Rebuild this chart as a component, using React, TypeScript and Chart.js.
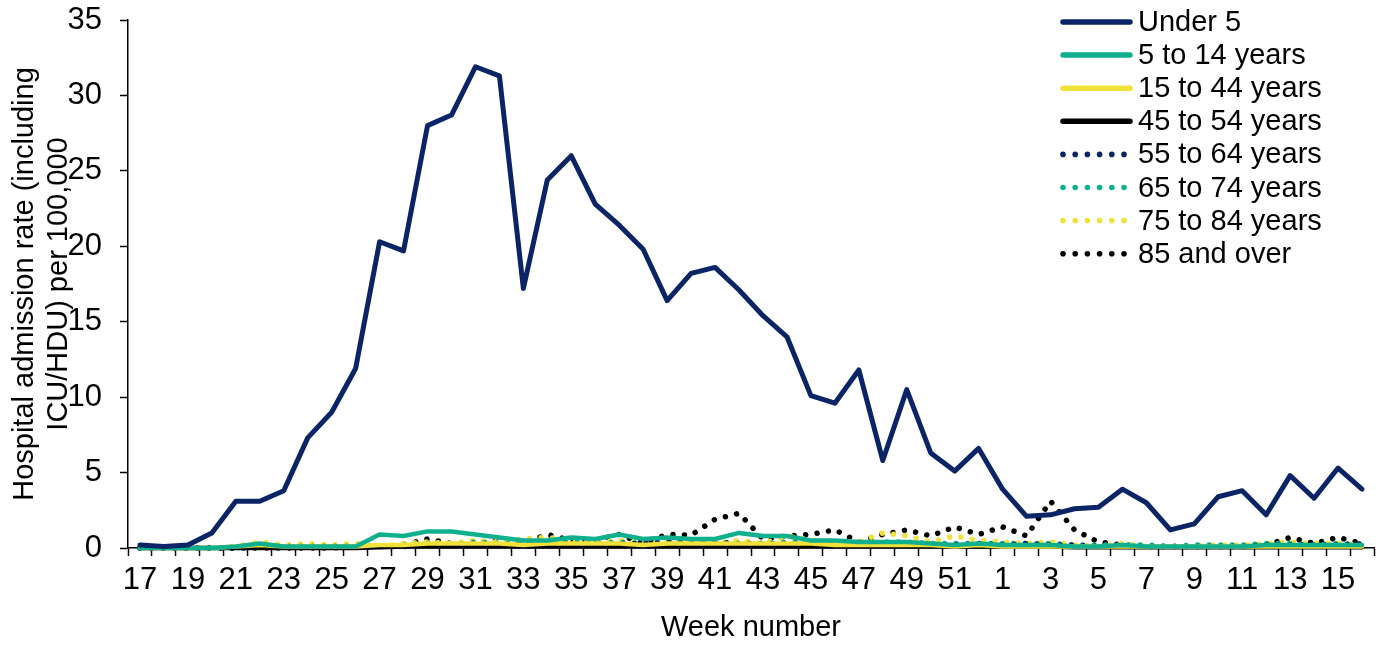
import React, { useEffect, useRef } from "react";
import { Chart, registerables } from "chart.js";

Chart.register(...registerables);

const weeks: string[] = [
  "17","18","19","20","21","22","23","24","25","26",
  "27","28","29","30","31","32","33","34","35","36",
  "37","38","39","40","41","42","43","44","45","46",
  "47","48","49","50","51","52",
  "1","2","3","4","5","6","7","8","9","10",
  "11","12","13","14","15","16",
];

const under5: number[] = [
  0.2,0.1,0.2,1.0,3.1,3.1,3.8,7.3,9.0,11.9,
  20.3,19.7,28.0,28.7,31.9,31.3,17.2,24.4,26.0,22.8,
  21.4,19.8,16.4,18.2,18.6,17.1,15.4,14.0,10.1,9.6,
  11.8,5.8,10.5,6.3,5.1,6.6,
  3.9,2.1,2.2,2.6,2.7,3.9,3.0,1.2,1.6,3.4,
  3.8,2.2,4.8,3.3,5.3,3.9,
];

const age5to14: number[] = [
  0,0,0,0,0.1,0.3,0.1,0.1,0.1,0.1,
  0.9,0.8,1.1,1.1,0.9,0.7,0.5,0.5,0.7,0.6,
  0.9,0.6,0.7,0.6,0.6,1.0,0.8,0.8,0.5,0.5,
  0.4,0.4,0.4,0.3,0.2,0.3,
  0.2,0.2,0.2,0.1,0.1,0.2,0.1,0.1,0.1,0.1,
  0.1,0.2,0.2,0.2,0.2,0.2,
];

const age15to44: number[] = [
  0,0,0,0,0.1,0.2,0.1,0.1,0.1,0.1,
  0.2,0.2,0.3,0.3,0.3,0.3,0.2,0.3,0.3,0.3,
  0.3,0.2,0.3,0.3,0.3,0.3,0.3,0.3,0.3,0.2,
  0.2,0.2,0.2,0.2,0.1,0.2,
  0.1,0.1,0.1,0.1,0.1,0.1,0.1,0.1,0.1,0.1,
  0.1,0.1,0.1,0.1,0.1,0.1,
];

const age45to54: number[] = [
  0,0,0,0,0,0,0,0,0,0,
  0.05,0.1,0.1,0.1,0.1,0.1,0.1,0.1,0.1,0.1,
  0.1,0.1,0.1,0.1,0.1,0.1,0.1,0.1,0.1,0.1,
  0.1,0.1,0.1,0.1,0.1,0.1,
  0.1,0.1,0.1,0.05,0.05,0.05,0.05,0.05,0.05,0.05,
  0.05,0.05,0.05,0.05,0.05,0.05,
];

const age55to64: number[] = [
  0,0,0,0,0,0.1,0.1,0.1,0.1,0.1,
  0.1,0.1,0.2,0.2,0.3,0.2,0.2,0.3,0.3,0.2,
  0.3,0.3,0.4,0.3,0.4,0.3,0.3,0.3,0.3,0.3,
  0.3,0.3,0.3,0.2,0.2,0.3,
  0.2,0.3,0.2,0.2,0.1,0.1,0.1,0.1,0.1,0.1,
  0.1,0.2,0.2,0.2,0.2,0.3,
];

const age65to74: number[] = [
  0,0,0,0,0,0.1,0.1,0.1,0.1,0.1,
  0.1,0.2,0.3,0.2,0.4,0.3,0.3,0.4,0.4,0.3,
  0.4,0.3,0.3,0.5,0.4,0.3,0.3,0.4,0.4,0.3,
  0.3,0.4,0.4,0.3,0.3,0.3,
  0.3,0.3,0.3,0.2,0.2,0.2,0.2,0.1,0.2,0.2,
  0.2,0.3,0.3,0.2,0.3,0.2,
];

const age75to84: number[] = [
  0,0,0,0,0.1,0.4,0.2,0.3,0.2,0.3,
  0.1,0.3,0.4,0.3,0.5,0.4,0.6,0.7,0.5,0.4,
  0.5,0.3,0.4,0.4,0.3,0.5,0.3,0.8,0.5,0.4,
  0.4,1.0,0.8,0.4,0.8,0.5,
  0.4,0.3,0.4,0.2,0.1,0.3,0.1,0.1,0.1,0.2,
  0.2,0.3,0.4,0.3,0.3,0.2,
];

const age85plus: number[] = [
  0,0,0,0,0,0,0,0,0,0.1,
  0.1,0.2,0.6,0.3,0.4,0.5,0.3,0.9,0.5,0.5,
  0.9,0.3,0.9,0.85,1.9,2.3,0.6,0.8,0.9,1.2,
  0.4,0.9,1.2,0.8,1.4,0.9,
  1.4,0.8,3.1,1.2,0.4,0.2,0.1,0.1,0.1,0.1,
  0.1,0.2,0.7,0.3,0.7,0.3,
];

const yTicks: number[] = [0, 5, 10, 15, 20, 25, 30, 35];

const NAVY = "#0b2466";
const TEAL = "#10b08e";
const YELLOW = "#f1e23a";
const BLACK = "#000000";
const FONT = "'Liberation Sans', Arial, sans-serif";

type SeriesDef = { label: string; data: number[]; color: string; dotted: boolean; width: number };

const seriesDefs: SeriesDef[] = [
  { label: "Under 5", data: under5, color: NAVY, dotted: false, width: 5 },
  { label: "5 to 14 years", data: age5to14, color: TEAL, dotted: false, width: 4.5 },
  { label: "15 to 44 years", data: age15to44, color: YELLOW, dotted: false, width: 4.5 },
  { label: "45 to 54 years", data: age45to54, color: BLACK, dotted: false, width: 4.5 },
  { label: "55 to 64 years", data: age55to64, color: NAVY, dotted: true, width: 5.5 },
  { label: "65 to 74 years", data: age65to74, color: TEAL, dotted: true, width: 5.5 },
  { label: "75 to 84 years", data: age75to84, color: YELLOW, dotted: true, width: 5.5 },
  { label: "85 and over", data: age85plus, color: BLACK, dotted: true, width: 5.5 },
];

const overlayPlugin = {
  id: "overlay",
  afterDraw(chart: any) {
    const ctx: CanvasRenderingContext2D = chart.ctx;
    ctx.save();
    // legend
    const x1 = 1061;
    const x2 = 1132;
    seriesDefs.forEach((s, i) => {
      const y = 22 + i * 33.1;
      ctx.strokeStyle = s.color;
      ctx.fillStyle = s.color;
      if (s.dotted) {
        for (let k = 0; k < 6; k++) {
          ctx.beginPath();
          ctx.arc(x1 + 2 + k * 12.2, y, 2.8, 0, Math.PI * 2);
          ctx.fill();
        }
      } else {
        ctx.lineWidth = 5.5;
        ctx.lineCap = "round";
        ctx.beginPath();
        ctx.moveTo(x1 + 2, y);
        ctx.lineTo(x2 - 2, y);
        ctx.stroke();
      }
      ctx.fillStyle = "#000";
      ctx.font = `29px ${FONT}`;
      ctx.textAlign = "left";
      ctx.textBaseline = "middle";
      ctx.fillText(s.label, 1138, y + 1);
    });
    // y-axis title
    const cy = (chart.chartArea.top + chart.chartArea.bottom) / 2;
    ctx.fillStyle = "#000";
    ctx.font = `29px ${FONT}`;
    ctx.textAlign = "center";
    ctx.textBaseline = "alphabetic";
    ctx.save();
    ctx.translate(33, cy);
    ctx.rotate(-Math.PI / 2);
    ctx.fillText("Hospital admission rate (including", 0, 0);
    ctx.restore();
    ctx.save();
    ctx.translate(67, cy);
    ctx.rotate(-Math.PI / 2);
    ctx.fillText("ICU/HDU) per 100,000", 0, 0);
    ctx.restore();
    ctx.restore();
  },
};

export default function App() {
  const ref = useRef<HTMLCanvasElement | null>(null);

  useEffect(() => {
    document.body.style.margin = "0";
    document.body.style.overflow = "hidden";
    const canvas = ref.current;
    if (!canvas) return;
    const chart = new Chart(canvas, {
      type: "line",
      data: {
        labels: weeks,
        datasets: seriesDefs.map((s) => ({
          label: s.label,
          data: s.data,
          borderColor: s.color,
          backgroundColor: s.color,
          borderWidth: s.width,
          borderDash: s.dotted ? [0.01, 11.5] : [],
          borderCapStyle: "round" as const,
          borderJoinStyle: "round" as const,
          pointRadius: 0,
          pointHoverRadius: 0,
          tension: 0,
          fill: false,
          clip: false as any,
        })),
      },
      options: {
        responsive: false,
        animation: false,
        events: [],
        layout: { padding: { top: 20, right: 12, left: 0, bottom: 0 } },
        plugins: {
          legend: { display: false },
          tooltip: { enabled: false },
          title: { display: false },
        },
        scales: {
          x: {
            type: "category",
            offset: true,
            grid: {
              offset: true,
              drawOnChartArea: false,
              drawTicks: true,
              tickLength: 8,
              tickColor: "#000",
              tickWidth: 1.5,
            },
            border: { color: "#000", width: 1.5 },
            ticks: {
              autoSkip: false,
              maxRotation: 0,
              minRotation: 0,
              padding: 6,
              color: "#000",
              font: { family: FONT, size: 31 },
              callback: (_v: any, i: number) => (i % 2 === 0 ? weeks[i] : ""),
            },
            title: {
              display: true,
              text: "Week number",
              color: "#000",
              font: { family: FONT, size: 29 },
              padding: { top: 0, bottom: 0 },
            },
            afterFit: (s: any) => {
              s.height = 97;
              s.paddingLeft = 0;
              s.paddingRight = 0;
            },
          },
          y: {
            min: 0,
            max: 35,
            afterBuildTicks: (s: any) => {
              s.ticks = yTicks.map((v) => ({ value: v }));
            },
            grid: {
              drawOnChartArea: false,
              drawTicks: true,
              tickLength: 8,
              tickColor: "#000",
              tickWidth: 1.5,
            },
            border: { color: "#000", width: 1.5 },
            ticks: {
              padding: 18,
              color: "#000",
              font: { family: FONT, size: 31 },
            },
            afterFit: (s: any) => {
              s.width = 128;
              s.paddingTop = 0;
              s.paddingBottom = 0;
            },
          },
        },
      },
      plugins: [overlayPlugin],
    });
    return () => chart.destroy();
  }, []);

  return (
    <div style={{ width: 1386, height: 645, position: "relative" }}>
      <canvas ref={ref} width={1386} height={645} style={{ display: "block" }} />
    </div>
  );
}
